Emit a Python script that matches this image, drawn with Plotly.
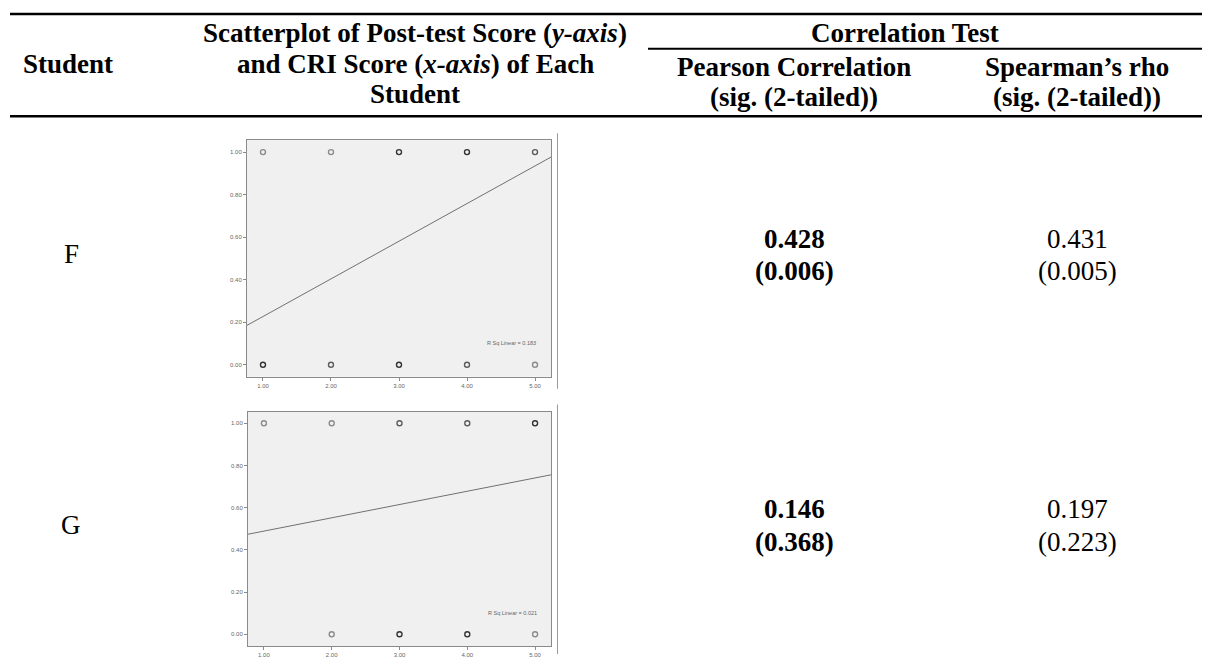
import plotly.graph_objects as go

students = ["F", "G"]
pearson_r = ["0.428", "0.146"]
pearson_sig = ["(0.006)", "(0.368)"]
spearman_rho = ["0.431", "0.197"]
spearman_sig = ["(0.005)", "(0.223)"]
r_sq = ["0.183", "0.021"]

cri_scores = [1, 2, 3, 4, 5]
# number of overlapping cases at post-test = 1 and post-test = 0 (0 = no point)
f_top_n = [1, 1, 3, 3, 2]
f_bottom_n = [3, 2, 3, 2, 1]
g_top_n = [1, 1, 2, 2, 3]
g_bottom_n = [0, 1, 3, 3, 1]

# fit lines (intercept, slope)
fit_lines = [(0.050, 0.177), (0.426, 0.063)]

x_tick_labels = ["1.00", "2.00", "3.00", "4.00", "5.00"]
y_tick_vals = [0, 0.2, 0.4, 0.6, 0.8, 1.0]
y_tick_labels = ["0.00", "0.20", "0.40", "0.60", "0.80", "1.00"]

# the page body has an 8px margin, so the figure is 8px smaller each way
OFF = 8
W, H = 1210 - OFF, 658 - OFF
SERIF = "Liberation Serif"
FS = 27
XR = [0.765, 5.235]
YR = [-0.056, 1.056]


def px(x):
    return (x - OFF) / W


def py(y):
    return 1 - (y - OFF) / H


def shade(n):
    return {1: "#8c8c8c", 2: "#5c5c5c"}.get(n, "#333333")


fig = go.Figure()

# plot boxes in page pixels: (left, top, right, bottom)
boxes = [(247, 141, 551, 379), (248, 414, 551, 650)]
counts = [(f_top_n, f_bottom_n), (g_top_n, g_bottom_n)]

for i, (box, (top_n, bot_n), (b0, b1)) in enumerate(zip(boxes, counts, fit_lines)):
    ax = "" if i == 0 else str(i + 1)
    xs, ys, cols = [], [], []
    for x, n in zip(cri_scores, top_n):
        if n:
            xs.append(x); ys.append(1); cols.append(shade(n))
    for x, n in zip(cri_scores, bot_n):
        if n:
            xs.append(x); ys.append(0); cols.append(shade(n))
    fig.add_trace(go.Scatter(
        x=xs, y=ys, mode="markers", xaxis="x" + ax, yaxis="y" + ax,
        marker=dict(symbol="circle-open", size=5, color=cols,
                    line=dict(width=1.4, color=cols)),
        showlegend=False, hoverinfo="skip",
    ))
    fig.add_trace(go.Scatter(
        x=XR, y=[b0 + b1 * XR[0], b0 + b1 * XR[1]], mode="lines",
        xaxis="x" + ax, yaxis="y" + ax,
        line=dict(color="#707070", width=1), showlegend=False, hoverinfo="skip",
    ))
    l, t, r, b = box
    common = dict(showgrid=False, zeroline=False, showline=True, mirror=True,
                  linecolor="#8a8a8a", linewidth=1, ticks="outside", ticklen=3,
                  tickcolor="#8a8a8a", tickfont=dict(family="Arial", size=6, color="#666"))
    fig.update_layout(**{
        "xaxis" + ax: dict(domain=[px(l), px(r)], range=XR, anchor="y" + ax,
                           tickvals=cri_scores, ticktext=x_tick_labels, **common),
        "yaxis" + ax: dict(domain=[py(b), py(t)], range=YR, anchor="x" + ax,
                           tickvals=y_tick_vals, ticktext=y_tick_labels, **common),
    })
    fig.add_annotation(x=4.66, y=0.103, xref="x" + ax, yref="y" + ax,
                       text="R Sq Linear = " + r_sq[i], showarrow=False,
                       font=dict(family="Arial", size=5.5, color="#666"))
    # image border to the right of each plot
    fig.add_shape(type="line", xref="paper", yref="paper",
                  x0=px(557.5), x1=px(557.5), y0=py(t - 7), y1=max(py(b + 12), 0),
                  line=dict(color="#9a9a9a", width=1))

# table rules
for y0, xa, w in [(14, 10, 2.5), (49, 648, 2), (117, 10, 2.5)]:
    fig.add_shape(type="line", xref="paper", yref="paper",
                  x0=px(xa), x1=1, y0=py(y0), y1=py(y0),
                  line=dict(color="black", width=w))


def txt(x, y, s, size=FS):
    fig.add_annotation(x=px(x), y=py(y), xref="paper", yref="paper", text=s,
                       showarrow=False, xanchor="center", yanchor="middle",
                       font=dict(family=SERIF, size=size, color="black"))


COL_S, COL_P, COL_R = 68, 794, 1077
txt(COL_S, 64, "<b>Student</b>")
txt(415, 33, "<b>Scatterplot of Post-test Score (<i>y-axis</i>)</b>")
txt(415, 64, "<b>and CRI Score (<i>x-axis</i>) of Each</b>")
txt(415, 95, "<b>Student</b>")
txt(905, 33, "<b>Correlation Test</b>")
txt(COL_P, 67, "<b>Pearson Correlation</b>")
txt(COL_P, 98, "<b>(sig. (2-tailed))</b>")
txt(COL_R, 67, "<b>Spearman’s rho</b>")
txt(COL_R, 98, "<b>(sig. (2-tailed))</b>")

row_y = [256, 528]
for name, r, rs, rho, ss, y in zip(students, pearson_r, pearson_sig,
                                   spearman_rho, spearman_sig, row_y):
    txt(COL_S + 3, y, name)
    txt(COL_P, y - 16, "<b>" + r + "</b>")
    txt(COL_P, y + 17, "<b>" + rs + "</b>")
    txt(COL_R, y - 16, rho)
    txt(COL_R, y + 17, ss)

fig.update_layout(width=W, height=H, margin=dict(l=0, r=0, t=0, b=0),
                  paper_bgcolor="white", plot_bgcolor="#f0f0f0")

fig.write_html("out.html")
